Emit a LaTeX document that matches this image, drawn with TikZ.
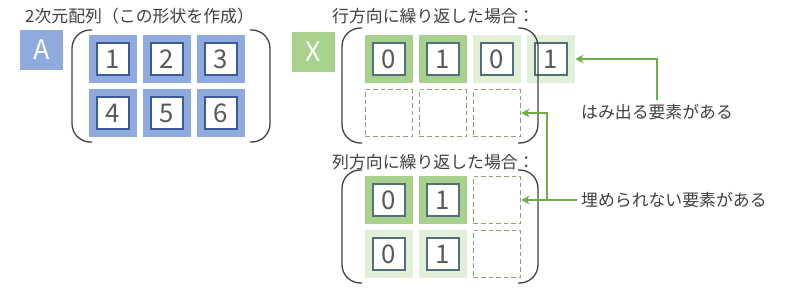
\documentclass[tikz,border=0pt]{standalone}
\usepackage{fontspec}
\setmainfont{Noto Sans CJK JP}
\usepackage{tikz}
\usetikzlibrary{positioning,arrows.meta}
\definecolor{BlueFill}{HTML}{8FAADC}
\definecolor{BlueDark}{HTML}{3A5A9C}
\definecolor{GreenFill}{HTML}{A9D18E}
\definecolor{GreenLight}{HTML}{E2F0D9}
\definecolor{GreenLine}{HTML}{8CA37A}
\definecolor{GreenArrow}{HTML}{70AD47}
\definecolor{Slate}{HTML}{52707C}
\definecolor{Dark}{HTML}{404040}
\definecolor{Digit}{HTML}{595959}

\tikzset{
	numcell/.style 2 args={
		draw=#2, fill=white, line width=1.2pt,
		minimum size=0.96cm, inner sep=0, outer sep=0.25cm,
		text=Digit, font=\fontsize{22pt}{24pt}\selectfont,
		preaction={draw=#1, fill=#1, line width=0.48cm}
	},
	emptycell/.style={
		draw=GreenLine, dash pattern=on 4pt off 2.5pt, line width=1.1pt,
		minimum size=1.42cm, inner sep=0
	},
	letterbox/.style={
		fill=#1, text=white, minimum width=1.29cm, minimum height=1.2cm,
		inner sep=0, font=\fontsize{23pt}{25pt}\selectfont
	},
	caption/.style={
		anchor=west, text=Dark, font=\fontsize{14.4pt}{16pt}\selectfont
	},
	bracket/.style={draw=Dark, line width=1.1pt, rounded corners=0.55cm},
	arrowline/.style={draw=GreenArrow, line width=2.2pt, -{Stealth[length=7pt,width=7.5pt]}}
}

\begin{document}
\begin{tikzpicture}[x=0.03cm, y=-0.03cm]
			\useasboundingbox (0,0) rectangle (800,290);
			
			% 2次元配列 A
			\node[caption, inner sep=0] (titleA) at (25,16) {2次元配列（この形状を作成）};
			\node[letterbox=BlueFill] (boxA) at (41.5,50) {A};
			\node[numcell={BlueFill}{BlueDark}] (a11) at (113,59) {1};
			\node[numcell={BlueFill}{BlueDark}] (a12) at (167,59) {2};
			\node[numcell={BlueFill}{BlueDark}] (a13) at (221,59) {3};
			\node[numcell={BlueFill}{BlueDark}] (a21) at (113,113) {4};
			\node[numcell={BlueFill}{BlueDark}] (a22) at (167,113) {5};
			\node[numcell={BlueFill}{BlueDark}] (a23) at (221,113) {6};
			\draw[bracket] (92,30) -- (72,30) -- (72,142) -- (92,142);
			\draw[bracket] (250,30) -- (270,30) -- (270,142) -- (250,142);
			
			% 行方向
			\node[caption, inner sep=0] (titleRow) at (332,16) {行方向に繰り返した場合：};
			\node[letterbox=GreenFill] (boxX) at (313.5,52) {X};
			\node[numcell={GreenFill}{Slate}] (r11) at (389,59) {0};
			\node[numcell={GreenFill}{Slate}] (r12) at (443,59) {1};
			\node[numcell={GreenLight}{Slate}] (r13) at (497,59) {0};
			\node[numcell={GreenLight}{Slate}] (r14) at (551,59) {1};
			\node[emptycell] (r21) at (389,113) {};
			\node[emptycell] (r22) at (443,113) {};
			\node[emptycell] (r23) at (497,113) {};
			\draw[bracket] (362,28) -- (342,28) -- (342,143) -- (362,143);
			\draw[bracket] (518,28) -- (538,28) -- (538,143) -- (518,143);
			
			% 列方向
			\node[caption, inner sep=0] (titleCol) at (332,162) {列方向に繰り返した場合：};
			\node[numcell={GreenFill}{Slate}] (c11) at (389,200) {0};
			\node[numcell={GreenFill}{Slate}] (c12) at (443,200) {1};
			\node[emptycell] (c13) at (497,200) {};
			\node[numcell={GreenLight}{Slate}] (c21) at (389,254) {0};
			\node[numcell={GreenLight}{Slate}] (c22) at (443,254) {1};
			\node[emptycell] (c23) at (497,254) {};
			\draw[bracket] (362,170) -- (342,170) -- (342,283) -- (362,283);
			\draw[bracket] (518,170) -- (538,170) -- (538,283) -- (518,283);
			
			% 注記と矢印
			\node[caption] (overflow) at (577,112) {はみ出る要素がある};
			\node[caption] (unfilled) at (577,200) {埋められない要素がある};
			\draw[arrowline] (overflow.north) |- (r14.east);
			\coordinate (fork) at (547,200);
			\draw[arrowline] (unfilled.west) -- (fork) -- (c13.east);
			\draw[arrowline] (fork) |- (r23.east);
		\end{tikzpicture}
\end{document}
